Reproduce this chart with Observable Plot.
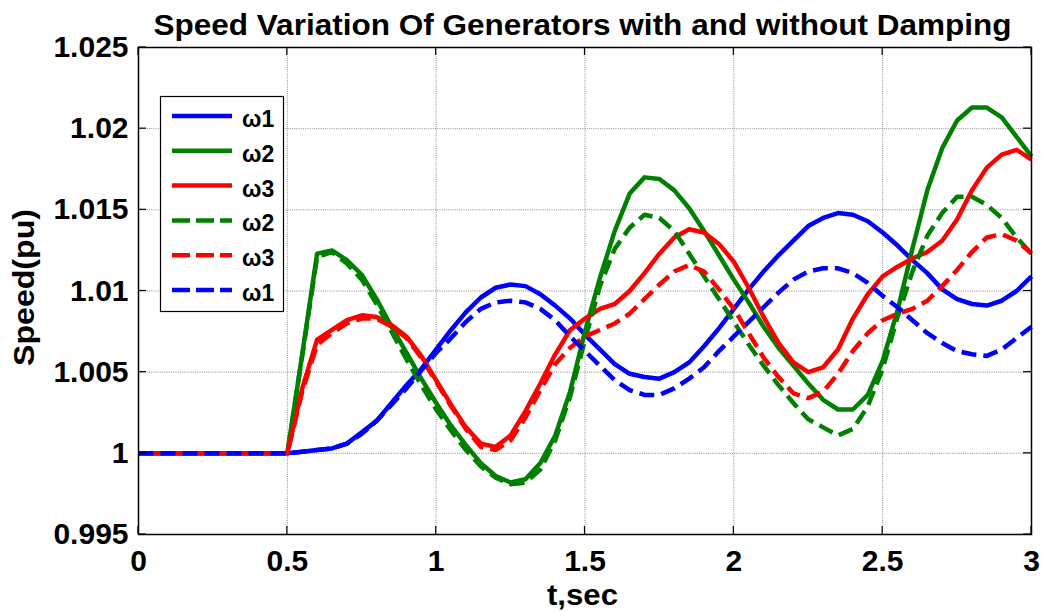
<!DOCTYPE html>
<html><head><meta charset="utf-8">
<script src="https://cdn.jsdelivr.net/npm/d3@7"></script>
<script src="https://cdn.jsdelivr.net/npm/@observablehq/plot@0.6"></script>
<style>html,body{margin:0;padding:0;background:#fff;}</style>
</head><body><div id="chart"></div>
<script>
// ---- data ----
const title = "Speed Variation Of Generators with and without Damping";
const xLabel = "t,sec";
const yLabel = "Speed(pu)";
const xTicks = [0, 0.5, 1, 1.5, 2, 2.5, 3];
const xTickLabels = ["0", "0.5", "1", "1.5", "2", "2.5", "3"];
const yTicks = [0.995, 1, 1.005, 1.01, 1.015, 1.02, 1.025];
const yTickLabels = ["0.995", "1", "1.005", "1.01", "1.015", "1.02", "1.025"];

const t = [0, 0.5, 0.55, 0.6, 0.65, 0.7, 0.75, 0.8, 0.85, 0.9, 0.95, 1.0, 1.05, 1.1, 1.15, 1.2, 1.25, 1.3, 1.35, 1.4, 1.45, 1.5, 1.55, 1.6, 1.65, 1.7, 1.75, 1.8, 1.85, 1.9, 1.95, 2.0, 2.05, 2.1, 2.15, 2.2, 2.25, 2.3, 2.35, 2.4, 2.45, 2.5, 2.55, 2.6, 2.65, 2.7, 2.75, 2.8, 2.85, 2.9, 2.95, 3.0];

// without damping (solid)
const w1 = [1.0, 1.0, 1.0001, 1.0002, 1.0003, 1.0006, 1.0013, 1.0020, 1.0031, 1.0042, 1.0052, 1.0064, 1.0076, 1.0087, 1.0096, 1.0102, 1.0104, 1.0103, 1.0098, 1.0091, 1.0083, 1.0073, 1.0064, 1.0055, 1.0049, 1.0047, 1.0046, 1.0050, 1.0056, 1.0066, 1.0077, 1.0089, 1.0101, 1.0112, 1.0122, 1.0131, 1.0140, 1.0145, 1.0148, 1.0147, 1.0143, 1.0136, 1.0128, 1.0119, 1.0111, 1.0101, 1.0095, 1.0092, 1.0091, 1.0094, 1.0100, 1.0109];
const w2 = [1.0, 1.0, 1.0061, 1.0123, 1.0125, 1.0119, 1.0110, 1.0095, 1.0078, 1.0062, 1.0046, 1.0031, 1.0017, 1.0005, 0.9994, 0.9986, 0.9982, 0.9984, 0.9994, 1.0011, 1.0038, 1.0075, 1.0108, 1.0137, 1.0160, 1.0170, 1.0169, 1.0162, 1.0151, 1.0137, 1.0122, 1.0107, 1.0093, 1.0078, 1.0065, 1.0054, 1.0043, 1.0033, 1.0027, 1.0027, 1.0036, 1.0057, 1.0088, 1.0126, 1.0162, 1.0188, 1.0205, 1.0213, 1.0213, 1.0207, 1.0195, 1.0183];
const w3 = [1.0, 1.0, 1.0040, 1.0070, 1.0076, 1.0082, 1.0085, 1.0084, 1.0079, 1.0072, 1.0060, 1.0045, 1.0030, 1.0016, 1.0006, 1.0004, 1.0011, 1.0026, 1.0043, 1.0061, 1.0076, 1.0083, 1.0089, 1.0092, 1.0100, 1.0111, 1.0123, 1.0133, 1.0138, 1.0136, 1.0129, 1.0118, 1.0102, 1.0084, 1.0068, 1.0056, 1.0050, 1.0053, 1.0064, 1.0083, 1.0098, 1.0109, 1.0115, 1.0120, 1.0124, 1.0131, 1.0144, 1.0162, 1.0176, 1.0184, 1.0187, 1.0181];
// with damping (dashed)
const w2d = [1.0, 1.0, 1.0060, 1.0121, 1.0124, 1.0117, 1.0107, 1.0092, 1.0075, 1.0058, 1.0042, 1.0027, 1.0014, 1.0002, 0.9992, 0.9985, 0.9981, 0.9982, 0.9990, 1.0008, 1.0035, 1.0070, 1.0103, 1.0126, 1.0139, 1.0147, 1.0145, 1.0137, 1.0123, 1.0109, 1.0095, 1.0081, 1.0067, 1.0054, 1.0042, 1.0031, 1.0021, 1.0016, 1.0011, 1.0015, 1.0029, 1.0052, 1.0084, 1.0112, 1.0134, 1.0148, 1.0158, 1.0158, 1.0153, 1.0145, 1.0133, 1.0123];
const w3d = [1.0, 1.0, 1.0038, 1.0067, 1.0074, 1.0080, 1.0083, 1.0083, 1.0078, 1.0071, 1.0059, 1.0044, 1.0029, 1.0015, 1.0004, 1.0002, 1.0008, 1.0022, 1.0039, 1.0055, 1.0065, 1.0072, 1.0076, 1.0080, 1.0086, 1.0095, 1.0104, 1.0112, 1.0116, 1.0112, 1.0101, 1.0089, 1.0074, 1.0059, 1.0047, 1.0037, 1.0034, 1.0038, 1.0049, 1.0063, 1.0074, 1.0082, 1.0086, 1.0089, 1.0094, 1.0103, 1.0113, 1.0124, 1.0133, 1.0135, 1.0131, 1.0123];
const w1d = [1.0, 1.0, 1.0001, 1.0002, 1.0003, 1.0006, 1.0012, 1.0020, 1.0030, 1.0040, 1.0051, 1.0062, 1.0071, 1.0081, 1.0089, 1.0093, 1.0094, 1.0093, 1.0089, 1.0082, 1.0072, 1.0063, 1.0054, 1.0045, 1.0039, 1.0036, 1.0036, 1.0040, 1.0046, 1.0053, 1.0063, 1.0072, 1.0081, 1.0090, 1.0099, 1.0107, 1.0112, 1.0114, 1.0114, 1.0111, 1.0105, 1.0097, 1.0090, 1.0082, 1.0074, 1.0068, 1.0063, 1.0061, 1.0060, 1.0064, 1.0071, 1.0078];

const seriesNames = ["ω1", "ω2", "ω3", "ω2", "ω3", "ω1"];
const seriesValues = [w1, w2, w3, w2d, w3d, w1d];

// ---- styles ----
const FONT = "'Liberation Sans', Arial, Helvetica, sans-serif";
const colors = ["#0000ff", "#008000", "#ff0000", "#008000", "#ff0000", "#0000ff"];
const dashed = [false, false, false, true, true, true];
const DASH = "15,7";
const LW = 4.5;

const lineMarks = seriesValues.map((vals, k) => Plot.line(
  t.map((tt, i) => ({t: tt, v: vals[i]})),
  {x: "t", y: "v", stroke: colors[k], strokeWidth: LW,
   strokeDasharray: dashed[k] ? DASH : null,
   strokeLinejoin: "round", strokeLinecap: "butt"}
));

const gridStyle = {stroke: "#8c8c8c", strokeOpacity: 1, strokeWidth: 1, strokeDasharray: "1,1.2"};

const chart = Plot.plot({
  width: 1042, height: 612,
  marginLeft: 138, marginRight: 11, marginTop: 47, marginBottom: 78,
  style: {fontFamily: FONT, background: "white", color: "black", overflow: "visible"},
  x: {domain: [0, 3], label: null},
  y: {domain: [0.995, 1.025], label: null},
  marks: [
    Plot.gridX(xTicks, gridStyle),
    Plot.gridY(yTicks, gridStyle),
    Plot.axisX(xTicks, {tickSize: 0, tickPadding: 15, fontSize: 30, fontWeight: "bold",
      tickFormat: d => xTickLabels[xTicks.indexOf(d)], label: null}),
    Plot.axisY(yTicks, {tickSize: 0, tickPadding: 10, fontSize: 30, fontWeight: "bold",
      tickFormat: d => yTickLabels[yTicks.indexOf(d)], label: null}),
    ...lineMarks,
    Plot.frame({stroke: "black", strokeWidth: 1.5})
  ]
});
document.getElementById("chart").appendChild(chart);

const svg = d3.select(chart);
const sx = chart.scale("x"), sy = chart.scale("y");
const x0 = sx.apply(0), x1 = sx.apply(3), y0 = sy.apply(0.995), y1 = sy.apply(1.025);
const xc = (x0 + x1) / 2, yc = (y0 + y1) / 2;

// inward tick marks (MATLAB style)
const tk = svg.append("g").attr("stroke", "black").attr("stroke-width", 1.2);
xTicks.forEach(v => {
  const x = sx.apply(v);
  tk.append("line").attr("x1", x).attr("x2", x).attr("y1", y0).attr("y2", y0 - 8);
  tk.append("line").attr("x1", x).attr("x2", x).attr("y1", y1).attr("y2", y1 + 8);
});
yTicks.forEach(v => {
  const y = sy.apply(v);
  tk.append("line").attr("y1", y).attr("y2", y).attr("x1", x0).attr("x2", x0 + 8);
  tk.append("line").attr("y1", y).attr("y2", y).attr("x1", x1).attr("x2", x1 - 8);
});

// title and axis labels
const tg = svg.append("g").attr("font-family", FONT).attr("font-weight", "bold")
  .attr("fill", "black").attr("text-anchor", "middle");
tg.append("text").attr("x", xc - 2).attr("y", y1 - 12).attr("font-size", 29)
  .attr("textLength", 858).attr("lengthAdjust", "spacingAndGlyphs").text(title);
tg.append("text").attr("x", xc - 2).attr("y", y0 + 71).attr("font-size", 30)
  .attr("textLength", 71).attr("lengthAdjust", "spacingAndGlyphs").text(xLabel);
tg.append("text").attr("transform", `translate(34,${yc - 3}) rotate(-90)`).attr("font-size", 30)
  .attr("textLength", 157).attr("lengthAdjust", "spacingAndGlyphs").text(yLabel);

// legend
const lg = svg.append("g").attr("font-family", FONT).attr("text-anchor", "start");
lg.append("rect").attr("x", 160.5).attr("y", 96.5).attr("width", 123).attr("height", 215)
  .attr("fill", "white").attr("stroke", "black").attr("stroke-width", 1.2);
seriesNames.forEach((name, k) => {
  const yy = 116 + 34.8 * k;
  lg.append("line").attr("x1", 172).attr("x2", 232).attr("y1", yy).attr("y2", yy)
    .attr("stroke", colors[k]).attr("stroke-width", LW)
    .attr("stroke-dasharray", dashed[k] ? "18,6" : null);
  lg.append("text").attr("x", 242).attr("y", yy + 11).attr("font-size", 23)
    .attr("font-weight", "bold").attr("fill", "black").text(name);
});
</script>
</body></html>
